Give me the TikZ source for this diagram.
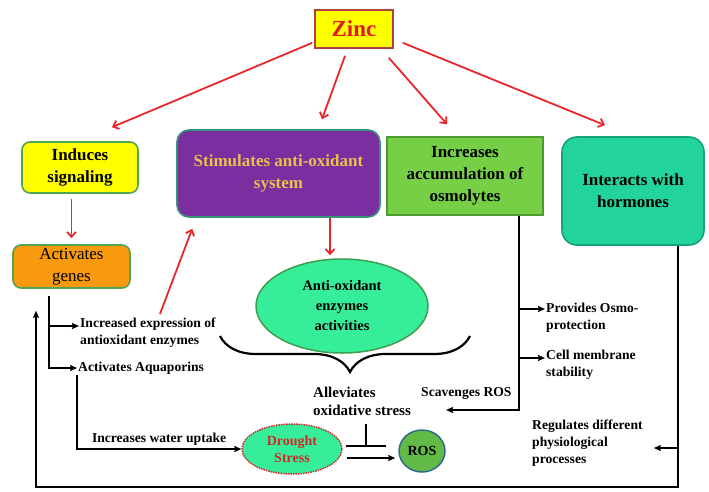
\documentclass[tikz,border=0pt]{standalone}
\usepackage{fontspec}
\setmainfont{Liberation Serif}
\usetikzlibrary{shapes.geometric,arrows.meta,decorations.pathreplacing}
\definecolor{zincred}{HTML}{E01B1B}
\definecolor{zincedge}{HTML}{B0413E}
\definecolor{boxedge}{HTML}{4FA64F}
\definecolor{sigyellow}{HTML}{FFFF00}
\definecolor{geneorange}{HTML}{F99A0E}
\definecolor{stimpurple}{HTML}{7A2EA0}
\definecolor{stimedge}{HTML}{37947A}
\definecolor{stimgold}{HTML}{E3C24E}
\definecolor{osmogreen}{HTML}{76CF45}
\definecolor{osmoedge}{HTML}{4F9A2F}
\definecolor{hormteal}{HTML}{22D39B}
\definecolor{hormedge}{HTML}{17A07C}
\definecolor{enzgreen}{HTML}{36EE9A}
\definecolor{enzedge}{HTML}{3E9D4F}
\definecolor{rosgreen}{HTML}{62BB47}
\definecolor{rosedge}{HTML}{2F6B8E}
\definecolor{droughtred}{HTML}{D02828}
\definecolor{arrowred}{HTML}{E8262B}
\begin{document}
\begin{tikzpicture}[x=1pt, y=-1pt,
    every node/.style={inner sep=1pt, font=\bfseries},
    box/.style={draw=boxedge, line width=1.6pt, align=center, font=\bfseries\fontsize{17}{22}\selectfont},
    rbox/.style={box, rounded corners=8pt},
    blob/.style={ellipse, line width=1.5pt, inner sep=0pt, align=center},
    lbl/.style={anchor=west, align=left, font=\bfseries\fontsize{13.6}{17}\selectfont},
    redarrow/.style={draw=arrowred, line width=1.8pt, -{Straight Barb[length=5pt,width=9pt]}},
    blkarrow/.style={line width=2pt, -{Stealth[length=7pt,width=6pt,inset=1pt]}}]
\useasboundingbox (0,0) rectangle (709,491);

\node [box, draw=zincedge, fill=sigyellow, text=zincred, minimum width=78pt, minimum height=38pt,
       font=\bfseries\fontsize{23}{26}\selectfont] (zinc) at (354,29) {Zinc};

\node [rbox, fill=sigyellow, minimum width=116pt, minimum height=51pt] (signal) at (80,167.5) {Induces\\signaling};
\node [rbox, draw=stimedge, fill=stimpurple, text=stimgold, rounded corners=12pt,
       minimum width=203pt, minimum height=87pt] (stim) at (278.5,173.5) {Stimulates anti-oxidant\\system};
\node [box, draw=osmoedge, fill=osmogreen, minimum width=156pt, minimum height=78pt] (osmo) at (465,176)
      {Increases\\accumulation of\\osmolytes};
\node [rbox, draw=hormedge, fill=hormteal, rounded corners=15pt, minimum width=142pt, minimum height=108pt]
      (horm) at (633,191) {Interacts with\\hormones};
\node [rbox, fill=geneorange, text=black, minimum width=117pt, minimum height=43pt,
       font=\fontsize{17}{22}\selectfont] (genes) at (71.5,266.5) {Activates\\genes};

\node [blob, draw=enzedge, fill=enzgreen, minimum width=172pt, minimum height=94pt,
       font=\bfseries\fontsize{14.5}{20}\selectfont] (enz) at (342,306) {Anti-oxidant\\enzymes\\activities};
\node [blob, draw=droughtred, densely dotted, fill=enzgreen, text=droughtred, minimum width=100pt, minimum height=50pt,
       font=\bfseries\fontsize{14}{17}\selectfont] (drought) at (292,449) {Drought\\Stress};
\node [blob, draw=rosedge, fill=rosgreen, minimum width=46pt, minimum height=42pt,
       font=\bfseries\fontsize{14}{16}\selectfont] (ros) at (422,451) {ROS};

\node [lbl] (expr) at (79,333) {Increased expression of\\antioxidant enzymes};
\node [lbl] (aqua) at (77,368) {Activates Aquaporins};
\node [lbl, font=\bfseries\fontsize{15}{18}\selectfont] (allev) at (312,401) {Alleviates\\oxidative stress};
\node [lbl] (scav) at (420,393) {Scavenges ROS};
\node [lbl] (prot) at (545,318) {Provides Osmo-\\protection};
\node [lbl] (memb) at (545,365) {Cell membrane\\stability};
\node [lbl] (regul) at (531,443) {Regulates different\\physiological\\processes};

\draw [redarrow] ([xshift=-2pt,yshift=6pt]zinc.south west) -- ([xshift=32pt,yshift=14pt]signal.north);
\draw [redarrow] ([xshift=-9pt,yshift=-7pt]zinc.south) -- ([xshift=43.5pt,yshift=10pt]stim.north);
\draw [redarrow] ([xshift=-5pt,yshift=-9pt]zinc.south east) -- ([xshift=-18pt,yshift=12pt]osmo.north);
\draw [redarrow] ([xshift=9pt,yshift=6pt]zinc.south east) -- ([xshift=-28pt,yshift=11pt]horm.north);
\draw [redarrow, shorten <=5pt, shorten >=6pt] (signal.south -| genes.north) -- (genes.north);
\draw [redarrow] ([xshift=51.5pt]stim.south) -- ([xshift=-12pt,yshift=3pt]enz.north);
\draw [redarrow] ([xshift=12pt,yshift=3pt]expr.north) -- ([xshift=16pt,yshift=-11pt]stim.south west);

\coordinate (gstem) at ([xshift=-22.5pt,yshift=-7pt]genes.south);
\draw [blkarrow] (gstem) |- ([yshift=7pt]expr.west);
\draw [blkarrow] (gstem) |- (aqua.west);
\draw [blkarrow] (aqua.south west) |- (drought.west)
      node [lbl, anchor=south, pos=0.75, yshift=2pt] (water) {Increases water uptake};
\draw [blkarrow, shorten >=3pt] ([xshift=4pt,yshift=-9pt]drought.east) -- ([yshift=-9pt]drought.east -| ros.west);
\coordinate (block) at (366,447);
\draw [line width=2pt, -{Bar[width=40pt]}] ([yshift=-8pt]allev.south -| block) -- (block);
\draw [line width=2.2pt, decorate, decoration={brace, mirror, amplitude=36pt, aspect=0.52}] (220,336) -- (470,336);

\coordinate (ostem) at ([xshift=54pt]osmo.south);
\draw [blkarrow] (ostem) |- ([xshift=34pt,yshift=-9pt]allev.east);
\draw [blkarrow] ([yshift=9pt]ostem |- prot.west) -- ([yshift=9pt]prot.west);
\draw [blkarrow] ([yshift=7pt]ostem |- memb.west) -- ([yshift=7pt]memb.west);

\coordinate (hstem) at ([xshift=45pt]horm.south);
\coordinate (hbase) at (36,487);
\draw [blkarrow] (hstem) |- (hbase) -- ([yshift=-22pt]genes.south -| hbase);
\draw [blkarrow] ([yshift=-5pt]hstem |- regul.east) -- ([xshift=10pt,yshift=-5pt]regul.east);
\end{tikzpicture}
\end{document}
